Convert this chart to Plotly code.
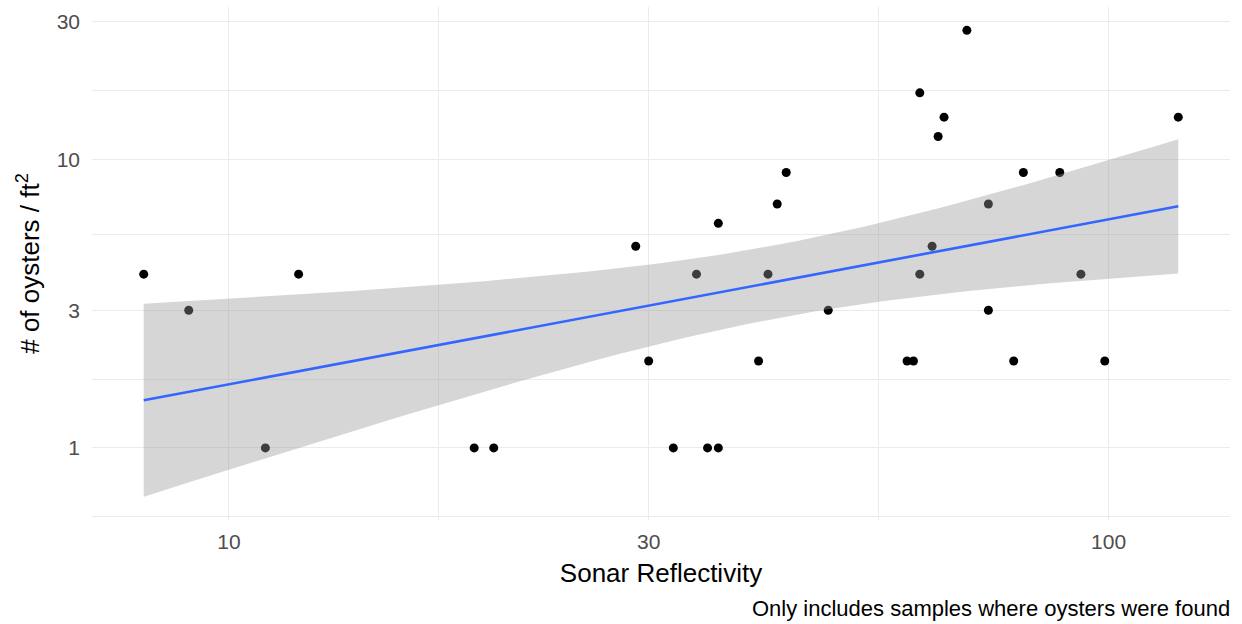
import numpy as np
import plotly.graph_objects as go

# ---- data ----
sonar = [8, 9, 11, 12, 19, 20, 29, 30, 32, 34, 35, 36, 36, 40, 41, 42, 43, 48,
         59, 60, 61, 61, 63, 64, 65, 69, 73, 73, 78, 80, 88, 93, 99, 120]
oysters = [4, 3, 1, 4, 1, 1, 5, 2, 1, 4, 1, 1, 6, 2, 4, 7, 9, 3,
           2, 2, 17, 4, 5, 12, 14, 28, 7, 3, 2, 9, 9, 4, 2, 14]

x_ticks = [10, 30, 100]
x_tick_labels = ["10", "30", "100"]
y_ticks = [1, 3, 10, 30]
y_tick_labels = ["1", "3", "10", "30"]

# ---- linear model in log-log space (as geom_smooth(method="lm") on log10 scales) ----
lx = np.log10(np.array(sonar, dtype=float))
ly = np.log10(np.array(oysters, dtype=float))
n = len(lx)
slope, intercept = np.polyfit(lx, ly, 1)
resid = ly - (intercept + slope * lx)
s = np.sqrt(np.sum(resid ** 2) / (n - 2))
sxx = np.sum((lx - lx.mean()) ** 2)
t_crit = 2.0369  # qt(0.975, df = 32)
grid = np.linspace(lx.min(), lx.max(), 80)
fit = intercept + slope * grid
se = s * np.sqrt(1.0 / n + (grid - lx.mean()) ** 2 / sxx)
upper = fit + t_crit * se
lower = fit - t_crit * se

gx = 10 ** grid

# ---- axis ranges with ggplot 5% expansion ----
xmin, xmax = lx.min(), lx.max()
xw = xmax - xmin
x_range = [xmin - 0.05 * xw, xmax + 0.05 * xw]
ymin = min(ly.min(), lower.min())
ymax = max(ly.max(), upper.max())
yw = ymax - ymin
y_range = [ymin - 0.05 * yw, ymax + 0.05 * yw]

def minor_breaks(major_log, lims):
    b = list(major_log)
    bd = b[1] - b[0]
    if lims[0] < b[0]:
        b = [b[0] - bd] + b
    if lims[1] > b[-1]:
        b = b + [b[-1] + bd]
    mids = [(a + c) / 2 for a, c in zip(b[:-1], b[1:])]
    return [10 ** m for m in mids if lims[0] <= m <= lims[1]]

x_minor = minor_breaks(np.log10(x_ticks), x_range)
y_minor = minor_breaks(np.log10(y_ticks), y_range)

fig = go.Figure()
fig.add_trace(go.Scatter(
    x=sonar, y=oysters, mode="markers",
    marker=dict(color="black", size=9, line=dict(width=0)),
    showlegend=False, hoverinfo="x+y"))
fig.add_trace(go.Scatter(
    x=np.concatenate([gx, gx[::-1]]),
    y=np.concatenate([10 ** upper, (10 ** lower)[::-1]]),
    fill="toself", fillcolor="rgba(153,153,153,0.4)",
    line=dict(width=0), mode="lines", showlegend=False, hoverinfo="skip"))
fig.add_trace(go.Scatter(
    x=gx, y=10 ** fit, mode="lines",
    line=dict(color="#3366FF", width=2.6),
    showlegend=False, hoverinfo="skip"))

font_family = "Liberation Sans, Arial, sans-serif"
grid_col = "#EBEBEB"

fig.update_xaxes(
    type="log", range=x_range, automargin=False,
    tickmode="array", tickvals=x_ticks, ticktext=x_tick_labels,
    showgrid=True, gridcolor=grid_col, gridwidth=1.2,
    minor=dict(tickmode="array", tickvals=x_minor, showgrid=True,
               gridcolor=grid_col, gridwidth=1, ticks=""),
    zeroline=False, showline=False, ticks="",
    tickfont=dict(family=font_family, size=21, color="#4D4D4D"),
    ticklabelstandoff=7,
    title=dict(text="Sonar Reflectivity",
               font=dict(family=font_family, size=26, color="black"),
               standoff=11),
)
fig.update_yaxes(
    type="log", range=y_range, automargin=False,
    tickmode="array", tickvals=y_ticks, ticktext=y_tick_labels,
    showgrid=True, gridcolor=grid_col, gridwidth=1.2,
    minor=dict(tickmode="array", tickvals=y_minor, showgrid=True,
               gridcolor=grid_col, gridwidth=1, ticks=""),
    zeroline=False, showline=False, ticks="",
    tickfont=dict(family=font_family, size=21, color="#4D4D4D"),
    ticklabelstandoff=11,
    title=dict(text="# of oysters / ft<sup>2</sup>",
               font=dict(family=font_family, size=26, color="black"),
               standoff=9),
)

fig.add_annotation(
    text="Only includes samples where oysters were found",
    xref="paper", yref="paper", x=1, y=0, xanchor="right", yanchor="middle",
    xshift=2, yshift=-88, showarrow=False,
    font=dict(family=font_family, size=22, color="black"))

fig.update_layout(
    width=1242, height=624,
    margin=dict(l=92, r=12, t=7, b=104, autoexpand=False),
    paper_bgcolor="white", plot_bgcolor="white",
    showlegend=False,
)

fig.write_html("out.html",
               config={"displayModeBar": False},
               post_script="document.body.style.margin='0px';"
                           "document.body.style.overflow='hidden';")
